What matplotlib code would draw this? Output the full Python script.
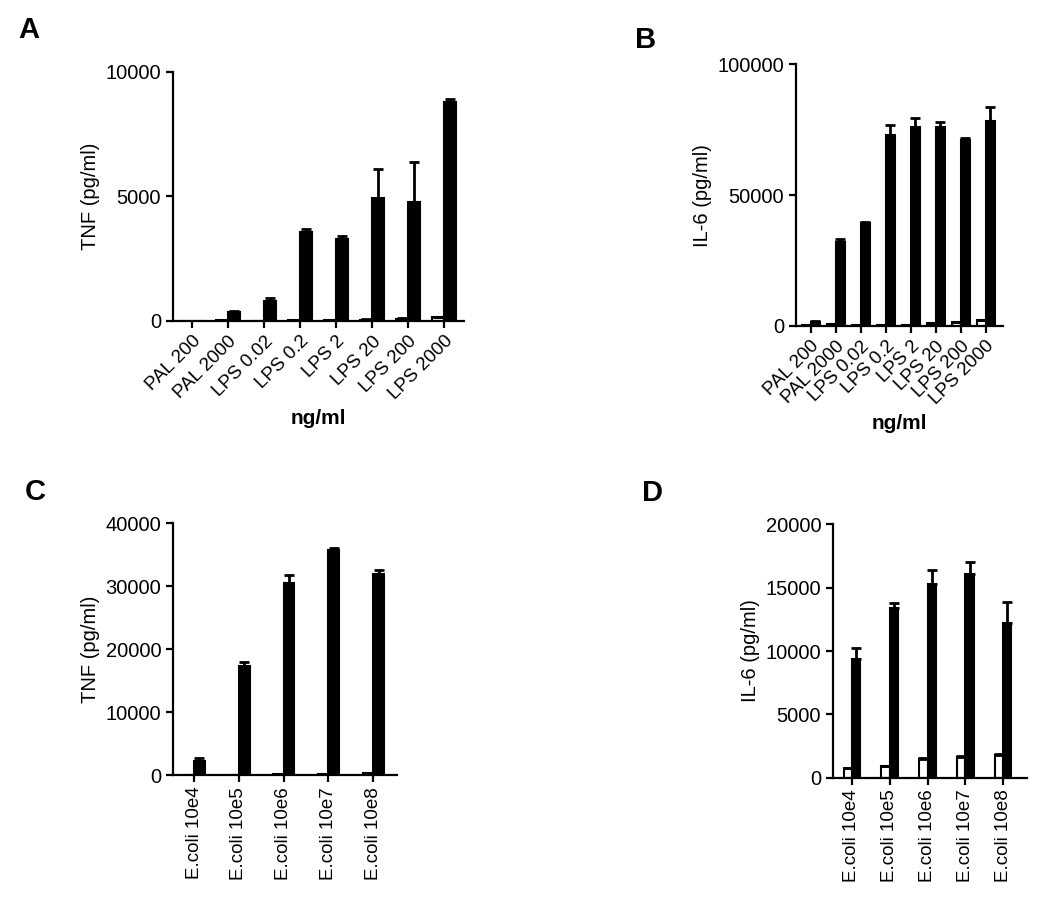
import numpy as np
import matplotlib.pyplot as plt

plt.rcParams['font.family'] = ['Liberation Sans', 'DejaVu Sans']

# panel A / B: purified ligands
lig_labels = ['PAL 200', 'PAL 2000', 'LPS 0.02', 'LPS 0.2', 'LPS 2', 'LPS 20', 'LPS 200', 'LPS 2000']
tnf_lig_white = [0, 30, 10, 20, 30, 50, 90, 140]
tnf_lig_white_err = [0, 0, 0, 0, 0, 10, 20, 30]
tnf_lig_black = [0, 348, 802, 3556, 3275, 4920, 4786, 8797]
tnf_lig_black_err = [0, 55, 135, 120, 135, 1200, 1580, 135]

il6_lig_white = [300, 700, 300, 300, 500, 1000, 1500, 2300]
il6_lig_white_err = [0, 0, 0, 0, 0, 0, 0, 0]
il6_lig_black = [1500, 32230, 39490, 72990, 75920, 75920, 71080, 78470]
il6_lig_black_err = [300, 1000, 380, 3830, 3440, 1900, 640, 5350]

# panel C / D: bacteria
ecoli_labels = ['E.coli 10e4', 'E.coli 10e5', 'E.coli 10e6', 'E.coli 10e7', 'E.coli 10e8']
tnf_ec_white = [50, 50, 100, 200, 400]
tnf_ec_white_err = [0, 0, 0, 0, 0]
tnf_ec_black = [2225, 17320, 30570, 35760, 31890]
tnf_ec_black_err = [530, 690, 1220, 370, 690]

il6_ec_white = [790, 950, 1450, 1660, 1790]
il6_ec_white_err = [0, 0, 130, 80, 80]
il6_ec_black = [9342, 13370, 15260, 16080, 12240]
il6_ec_black_err = [870, 450, 1110, 970, 1650]

fig = plt.figure(figsize=(10.5, 8.99), dpi=100)


def panel(rect, labels, white, white_err, black, black_err, width, xlim, ymax, yticks,
          ylabel, rot, xlabel=None):
    ax = fig.add_axes(rect)
    x = np.arange(len(labels))
    ax.bar(x - width / 2, white, width, color='white', edgecolor='black', linewidth=1.5)
    ax.bar(x + width / 2, black, width, color='black', edgecolor='black', linewidth=1.5)
    for xs, ys, es in [(x - width / 2, white, white_err), (x + width / 2, black, black_err)]:
        ax.errorbar(xs, ys, yerr=[np.zeros(len(es)), es], fmt='none', ecolor='black',
                    elinewidth=2, capsize=3.5, capthick=2)
    ax.set_xlim(*xlim)
    ax.set_ylim(0, ymax)
    ax.set_yticks(yticks)
    ax.set_xticks(x)
    if rot == 90:
        ax.set_xticklabels(labels, rotation=90, ha='center', va='top')
    else:
        ax.set_xticklabels(labels, rotation=rot, ha='right', rotation_mode='anchor')
    for s in ['top', 'right']:
        ax.spines[s].set_visible(False)
    for s in ['left', 'bottom']:
        ax.spines[s].set_linewidth(1.6)
        ax.spines[s].set_clip_on(False)
    ax.tick_params(width=1.6, length=5, direction='out')
    ax.tick_params(axis='x', labelsize=13.5)
    ax.tick_params(axis='y', labelsize=14.5)
    ax.set_ylabel(ylabel, fontsize=14.5)
    if xlabel:
        ax.set_xlabel(xlabel, fontsize=15, fontweight='bold')
    return ax


panel([0.1648, 0.643, 0.277, 0.277], lig_labels, tnf_lig_white, tnf_lig_white_err,
      tnf_lig_black, tnf_lig_black_err, 0.33, (-0.53, 7.55), 10000, [0, 5000, 10000],
      'TNF (pg/ml)', 45, 'ng/ml')
panel([0.758, 0.6374, 0.197, 0.291], lig_labels, il6_lig_white, il6_lig_white_err,
      il6_lig_black, il6_lig_black_err, 0.36, (-0.59, 7.68), 100000, [0, 50000, 100000],
      'IL-6 (pg/ml)', 45, 'ng/ml')
panel([0.1648, 0.1379, 0.2133, 0.280], ecoli_labels, tnf_ec_white, tnf_ec_white_err,
      tnf_ec_black, tnf_ec_black_err, 0.24, (-0.47, 4.53), 40000,
      [0, 10000, 20000, 30000, 40000], 'TNF (pg/ml)', 90)
panel([0.7933, 0.1349, 0.1848, 0.2819], ecoli_labels, il6_ec_white, il6_ec_white_err,
      il6_ec_black, il6_ec_black_err, 0.22, (-0.5, 4.63), 20000,
      [0, 5000, 10000, 15000, 20000], 'IL-6 (pg/ml)', 90)

for letter, xp, yp in [('A', 18, 30), ('B', 635, 40), ('C', 25, 492), ('D', 642, 493)]:
    fig.text(xp / 1050, 1 - yp / 899, letter, fontsize=21, fontweight='bold', va='center')

fig.savefig('out.png', dpi=100)
